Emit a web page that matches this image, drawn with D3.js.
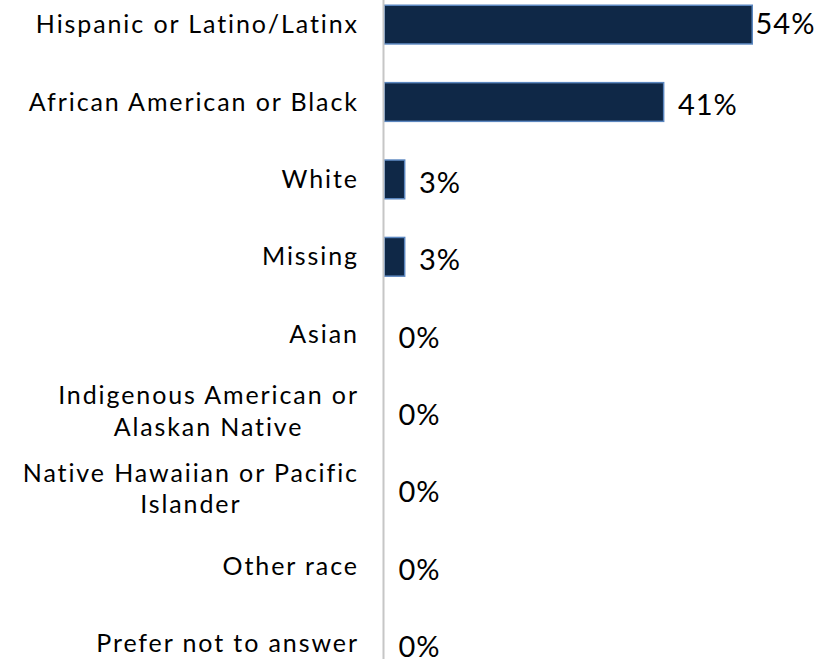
<!DOCTYPE html>
<html>
<head>
<meta charset="utf-8">
<script src="https://cdn.jsdelivr.net/npm/d3@7"></script>
<style>
  html, body { margin: 0; padding: 0; background: #fff; }
  svg { display: block; }
  text { font-family: Lato, "Noto Sans", sans-serif; fill: #000; }
</style>
</head>
<body>
<svg id="chart" width="829" height="659"></svg>
<script>
// Respondent race / ethnicity, percent of total
const categories = [
  "Hispanic or Latino/Latinx",
  "African American or Black",
  "White",
  "Missing",
  "Asian",
  "Indigenous American or\nAlaskan Native",
  "Native Hawaiian or Pacific\nIslander",
  "Other race",
  "Prefer not to answer"
];
const values = [54, 41, 3, 3, 0, 0, 0, 0, 0];
const valueLabels = ["54%", "41%", "3%", "3%", "0%", "0%", "0%", "0%", "0%"];

const width = 829, height = 659;
const axisX = 383.5;
const labelRight = 357;
const svg = d3.select("#chart");

const x = d3.scaleLinear().domain([0, 54]).range([axisX, axisX + 368]);
const y = d3.scaleBand().domain(categories).range([-14.1, 682.5]).paddingInner(0.5).paddingOuter(0.25);

const rows = categories.map((c, i) => ({ cat: c, value: values[i], label: valueLabels[i] }));

// bars
svg.append("g").selectAll("rect").data(rows.filter(d => d.value > 0)).join("rect")
  .attr("x", x(0) + 0.75)
  .attr("y", d => y(d.cat))
  .attr("width", d => x(d.value) - x(0))
  .attr("height", y.bandwidth())
  .attr("fill", "#0f2847")
  .attr("stroke", "#5a86bf")
  .attr("stroke-width", 1.5);

// category axis line
svg.append("line")
  .attr("x1", axisX).attr("x2", axisX)
  .attr("y1", 0).attr("y2", height)
  .attr("stroke", "#c6c6c6").attr("stroke-width", 2);

// category labels: block right-aligned to the axis, wrapped lines centred within the block
const lineH = 31.5;
const catSpacing = 1.9;
const catG = svg.append("g");
rows.forEach(d => {
  const lines = d.cat.split("\n");
  const cy = y(d.cat) + y.bandwidth() / 2;
  const g = catG.append("g");
  const texts = lines.map((ln, j) => g.append("text")
    .attr("font-size", 25)
    .attr("letter-spacing", catSpacing)
    .attr("y", cy - (lines.length - 1) * lineH / 2 + 8.5 + j * lineH)
    .text(ln));
  const widths = texts.map(t => t.node().getComputedTextLength() - catSpacing);
  const maxW = d3.max(widths);
  const mid = labelRight - maxW / 2;
  texts.forEach((t, j) => t.attr("x", mid - widths[j] / 2));
});

// value labels; a label that would run past the edge is pulled back inside
const labelG = svg.append("g");
rows.forEach(d => {
  const cy = y(d.cat) + y.bandwidth() / 2;
  const lx = x(d.value) + 15;
  const t = labelG.append("text")
    .attr("font-size", 29)
    .attr("letter-spacing", 1)
    .attr("x", lx).attr("y", cy + 13.3)
    .text(d.label);
  const w = t.node().getComputedTextLength();
  if (lx + w > width - 12) {
    t.attr("x", x(d.value) + 4).attr("y", cy + 9);
  }
});
</script>
</body>
</html>
